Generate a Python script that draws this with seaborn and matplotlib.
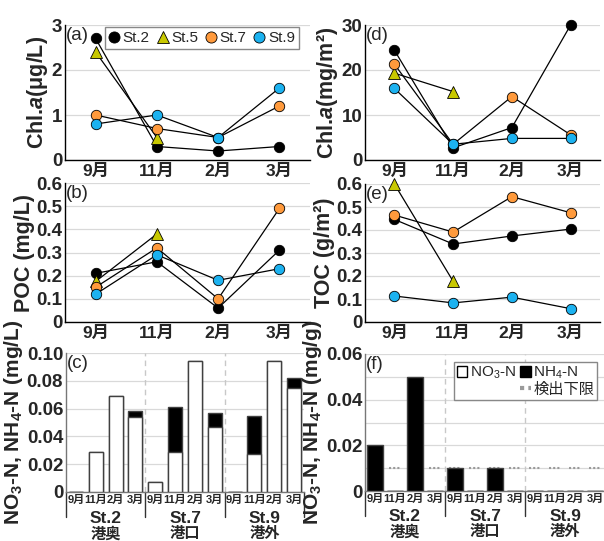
import matplotlib
matplotlib.use("Agg")
import matplotlib.pyplot as plt
import pandas as pd
import seaborn as sns
from matplotlib.patches import Patch
from matplotlib.lines import Line2D

# --- datos ---
months = ["9月", "11月", "2月", "3月"]
stations = ["St.2", "St.5", "St.7", "St.9"]
st_colors = ["black", "#c8c800", "#ff9a3c", "#1cb2f0"]
st_markers = ["o", "^", "o", "o"]

nan = float("nan")
chla_water = [[2.7, 0.3, 0.2, 0.3], [2.4, 0.5, nan, nan],
              [1.0, 0.7, 0.5, 1.2], [0.8, 1.0, 0.5, 1.6]]
chla_sed = [[24.4, 2.7, 7.2, 30.0], [19.3, 15.2, nan, nan],
            [21.3, 3.5, 14.1, 5.6], [15.9, 3.5, 4.8, 4.8]]
poc = [[0.21, 0.26, 0.06, 0.31], [0.175, 0.38, nan, nan],
       [0.15, 0.32, 0.10, 0.49], [0.12, 0.29, 0.18, 0.23]]
toc = [[0.446, 0.339, 0.374, 0.404], [0.60, 0.177, nan, nan],
       [0.465, 0.391, 0.545, 0.475], [0.113, 0.083, 0.108, 0.058]]

bar_stations = ["St.2", "St.7", "St.9"]
bar_sites = ["港奥", "港口", "港外"]
no3_water = [0, 0.029, 0.069, 0.054, 0.007, 0.029, 0.094, 0.047, 0, 0.027, 0.094, 0.075]
nh4_water = [0, 0, 0, 0.004, 0, 0.032, 0, 0.010, 0, 0.028, 0, 0.007]
no3_sed = [0, 0, 0, 0, 0, 0, 0, 0, 0, 0, 0, 0]
nh4_sed = [0.02, 0, 0.05, 0, 0.01, 0, 0.01, 0, 0, 0, 0, 0]
det_limit = 0.01

sns.set_style("white")
plt.rcParams["font.family"] = ["Liberation Sans", "Noto Sans CJK JP"]
plt.rcParams["font.weight"] = "bold"
plt.rcParams["mathtext.fontset"] = "custom"
plt.rcParams["mathtext.it"] = "Liberation Sans:italic:bold"
plt.rcParams["mathtext.default"] = "regular"

fig = plt.figure(figsize=(6.04, 5.41), dpi=100)
W, H = 604, 541


def px_axes(l, t, r, b):
    return fig.add_axes([l / W, 1 - b / H, (r - l) / W, (b - t) / H])


def style_axes(ax, ymax, yticks, ylabels, grid_ticks=None):
    ax.set_ylim(0, ymax)
    ax.set_yticks(yticks)
    ax.set_yticklabels(ylabels)
    for g in (grid_ticks if grid_ticks is not None else yticks):
        ax.axhline(g, color="#d9d9d9", lw=0.9, zorder=0)
    for s in ["top", "right"]:
        ax.spines[s].set_visible(False)
    for s in ["left", "bottom"]:
        ax.spines[s].set_color("black")
        ax.spines[s].set_linewidth(1.0)
    ax.tick_params(axis="y", length=0, labelsize=13.5, pad=2)


def line_panel(ax, values, ymax, yticks, ylabels, ylabel, tag):
    for name, vals, c, m in zip(stations, values, st_colors, st_markers):
        df = pd.DataFrame({"pos": range(len(months)), "val": vals})
        sns.lineplot(data=df, x="pos", y="val", color="black", lw=0.9,
                     marker=m, markersize=7.5 if m == "o" else 8,
                     markerfacecolor=c, markeredgecolor="black",
                     markeredgewidth=0.6, clip_on=False, ax=ax, zorder=3)
    ax.set_xlim(-0.5, len(months) - 0.5)
    ax.set_xticks(range(len(months)))
    ax.set_xticklabels(months, fontsize=12.5, fontweight="bold")
    ax.set_xticks([i + 0.5 for i in range(len(months) - 1)], minor=True)
    ax.tick_params(axis="x", which="major", length=0, pad=3)
    ax.tick_params(axis="x", which="minor", length=4, direction="in", color="#555555")
    style_axes(ax, ymax, yticks, ylabels)
    ax.set_xlabel("")
    ax.set_ylabel(ylabel, fontsize=15.5, fontweight="bold", labelpad=1)
    ax.text(0.005, 0.985, tag, transform=ax.transAxes, ha="left", va="top",
            fontsize=13.5, fontweight="normal")


def bar_panel(ax, no3, nh4, ymax, yticks, ylabels, grid_ticks, ylabel, tag, width):
    slots = [f"{s}-{m}" for s in bar_stations for m in months]
    df = pd.DataFrame({"slot": slots, "no3": no3,
                       "total": [a + b for a, b in zip(no3, nh4)]})
    sns.barplot(data=df, x="slot", y="total", color="black", saturation=1,
                width=width, edgecolor="#404040", linewidth=1, errorbar=None,
                ax=ax, zorder=3)
    sns.barplot(data=df, x="slot", y="no3", color="white", saturation=1,
                width=width, edgecolor="#404040", linewidth=1, errorbar=None,
                ax=ax, zorder=3)
    n = len(slots)
    ax.set_xlim(-0.5, n - 0.5)
    ax.set_xticks(range(n))
    ax.set_xticklabels(months * len(bar_stations), fontsize=8, fontweight="bold")
    ax.tick_params(axis="x", length=0, pad=2)
    style_axes(ax, ymax, yticks, ylabels, grid_ticks)
    ax.spines["left"].set_color("#777777")
    ax.spines["bottom"].set_color("#777777")
    trans = ax.get_xaxis_transform()
    ng = len(months)
    for k in range(len(bar_stations) + 1):
        xb = k * ng - 0.5
        ax.plot([xb, xb], [0, -0.18], transform=trans, color="#333333",
                lw=1, clip_on=False)
        if 0 < k < len(bar_stations):
            ax.axvline(xb, color="#c8c8c8", lw=1, ls=(0, (4, 3)), zorder=1)
    for k, (st, site) in enumerate(zip(bar_stations, bar_sites)):
        xc = k * ng + (ng - 1) / 2
        ax.text(xc, -0.135, st, transform=trans, ha="center", va="top",
                fontsize=12.5, fontweight="bold")
        ax.text(xc, -0.25, site, transform=trans, ha="center", va="top",
                fontsize=11, fontweight="bold")
    ax.set_xlabel("")
    ax.set_ylabel(ylabel, fontsize=15, fontweight="bold", labelpad=1)
    ax.text(0.005, 0.985, tag, transform=ax.transAxes, ha="left", va="top",
            fontsize=13.5, fontweight="normal")


ax_a = px_axes(65, 25, 310, 160)
ax_d = px_axes(365, 25, 600, 160)
ax_b = px_axes(65, 183, 310, 322)
ax_e = px_axes(365, 184, 600, 322)
ax_c = px_axes(66, 353, 304, 492)
ax_f = px_axes(365, 354, 605, 491)

line_panel(ax_a, chla_water, 3, [0, 1, 2, 3], ["0", "1", "2", "3"],
           r"Chl.$\mathit{a}$(μg/L)", "(a)")
line_panel(ax_d, chla_sed, 30, [0, 10, 20, 30], ["0", "10", "20", "30"],
           r"Chl.$\mathit{a}$(mg/m²)", "(d)")
tk6 = [i / 10 for i in range(7)]
lb6 = ["0"] + [f"{t:.1f}" for t in tk6[1:]]
line_panel(ax_b, poc, 0.6, tk6, lb6, "POC (mg/L)", "(b)")
line_panel(ax_e, toc, 0.6, tk6, lb6, "TOC (g/m²)", "(e)")

tkc = [0, 0.02, 0.04, 0.06, 0.08, 0.10]
bar_panel(ax_c, no3_water, nh4_water, 0.10, tkc,
          ["0"] + [f"{t:.2f}" for t in tkc[1:]], tkc,
          "NO$_3$-N, NH$_4$-N (mg/L)", "(c)", 0.7)
tkf = [0, 0.02, 0.04, 0.06]
bar_panel(ax_f, no3_sed, nh4_sed, 0.06, tkf,
          ["0"] + [f"{t:.2f}" for t in tkf[1:]],
          [0.01, 0.02, 0.03, 0.04, 0.05, 0.06],
          "NO$_3$-N, NH$_4$-N (mg/g)", "(f)", 0.8)
for i in range(len(nh4_sed)):
    ax_f.hlines(det_limit, i - 0.3, i + 0.3, colors="#9a9a9a", lw=1.5,
                linestyles=(0, (1, 1)), zorder=2)

# leyendas
h_st = [Line2D([], [], ls="none", marker=m, markersize=8, markerfacecolor=c,
               markeredgecolor="black", markeredgewidth=0.6)
        for c, m in zip(st_colors, st_markers)]
ax_a.legend(h_st, stations, ncol=4, loc="upper right",
            bbox_to_anchor=(0.985, 1.04), handlelength=0.7,
            handletextpad=0.2, columnspacing=0.5, borderpad=0.25,
            fancybox=False, framealpha=1, edgecolor="#888888",
            prop={"weight": "normal", "size": 11})

h_f = [Patch(facecolor="white", edgecolor="black"),
       Line2D([], [], ls="none"),
       Patch(facecolor="black", edgecolor="black"),
       Line2D([], [], color="#9a9a9a", lw=3, ls=(0, (1, 1)))]
ax_f.legend(h_f, ["NO$_3$-N", "", "NH$_4$-N", "検出下限"], ncol=2,
            loc="upper right", bbox_to_anchor=(1.0, 1.0), handlelength=0.7,
            handletextpad=0.15, columnspacing=0.3, borderpad=0.2,
            labelspacing=0.1, fancybox=False, framealpha=1, edgecolor="#888888",
            prop={"weight": "normal", "size": 11})

fig.savefig("out.png", dpi=100)
